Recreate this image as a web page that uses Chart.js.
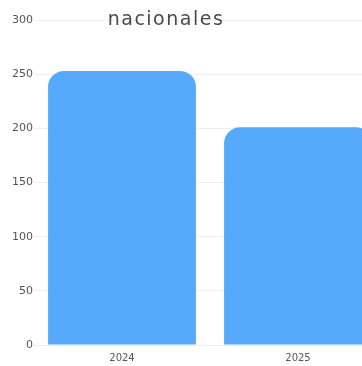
<!DOCTYPE html>
<html>
<head>
<meta charset="utf-8">
<script src="https://cdn.jsdelivr.net/npm/chart.js@4"></script>
<style>
  html, body { margin: 0; padding: 0; background: #fff; overflow: hidden; }
  #wrap { position: relative; width: 386px; height: 371px; }
</style>
</head>
<body>
<div id="wrap"><canvas id="chart"></canvas></div>
<script>
const years = ['2024', '2025'];
const totals = [253, 201];
const yTicks = [0, 50, 100, 150, 200, 250, 300];
const titleText = 'nacionales';

// the title sits over the top of the plot, so draw it by hand
const titlePlugin = {
  id: 'cutTitle',
  afterDraw(chart) {
    const ctx = chart.ctx;
    ctx.save();
    ctx.font = '19px "DejaVu Sans", sans-serif';
    ctx.letterSpacing = '1.5px';
    ctx.fillStyle = '#4a4a4a';
    ctx.textAlign = 'center';
    ctx.textBaseline = 'alphabetic';
    ctx.fillText(titleText, 166, 25);
    ctx.restore();
  }
};

new Chart(document.getElementById('chart'), {
  type: 'bar',
  data: {
    labels: years,
    datasets: [{
      data: totals,
      backgroundColor: '#56a9fa',
      borderRadius: 16,
      barPercentage: 0.84,
      categoryPercentage: 1,
    }]
  },
  options: {
    responsive: true,
    maintainAspectRatio: false,
    animation: false,
    layout: { padding: { top: 20, left: 11, right: 0, bottom: 0 } },
    plugins: {
      legend: { display: false },
      tooltip: { enabled: false }
    },
    scales: {
      y: {
        min: 0,
        max: 300,
        afterBuildTicks: axis => { axis.ticks = yTicks.map(v => ({ value: v })); },
        border: { display: false },
        grid: { color: '#efefef', drawTicks: false },
        ticks: { color: '#555', padding: 1, font: { family: 'DejaVu Sans', size: 11 } }
      },
      x: {
        border: { display: false },
        grid: { display: false, drawTicks: false },
        ticks: { color: '#555', padding: 7, font: { family: 'DejaVu Sans', size: 10 } }
      }
    }
  },
  plugins: [titlePlugin]
});
</script>
</body>
</html>
